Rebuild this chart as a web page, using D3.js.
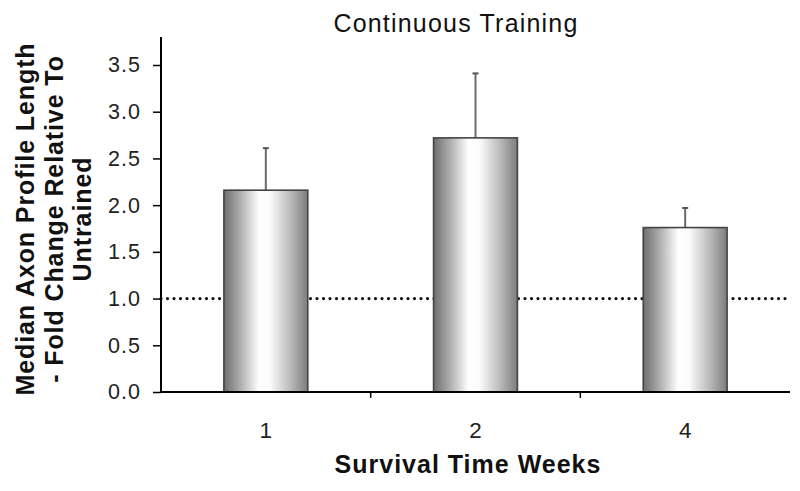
<!DOCTYPE html>
<html><head><meta charset="utf-8">
<script src="https://cdn.jsdelivr.net/npm/d3@7"></script>
<style>body{margin:0;background:#fff}svg{display:block}</style>
</head><body>
<svg id="c" width="800" height="491"></svg>
<script>
const categories = ["1", "2", "4"];
const values = [2.16, 2.72, 1.76];
const errors = [0.45, 0.69, 0.21];
const yTicks = [0, 0.5, 1.0, 1.5, 2.0, 2.5, 3.0, 3.5];
const refLine = 1.0;

const svg = d3.select("#c");
const m = {left: 161, right: 790, top: 37, bottom: 392};
const font = "Arial, 'Liberation Sans', sans-serif";

const x = d3.scaleBand().domain(categories).range([m.left, m.right]).paddingInner(0.6).paddingOuter(0.3);
const xOuter = d3.scaleBand().domain(categories).range([m.left, m.right]);
const y = d3.scaleLinear().domain([0, 3.5]).range([m.bottom, 65]);

const defs = svg.append("defs");
const g = defs.append("linearGradient").attr("id", "bg").attr("x1", "0").attr("x2", "1").attr("y1", "0").attr("y2", "0");
[[0, "#6e6e6e"], [0.18, "#a8a8a8"], [0.42, "#ffffff"], [0.55, "#fbfbfb"], [0.8, "#b8b8b8"], [1, "#7c7c7c"]]
  .forEach(([o, c]) => g.append("stop").attr("offset", o).attr("stop-color", c));

// reference dotted line
svg.append("line")
  .attr("x1", m.left).attr("x2", m.right)
  .attr("y1", y(refLine)).attr("y2", y(refLine))
  .attr("stroke", "#111").attr("stroke-width", 3.2)
  .attr("stroke-dasharray", "0 6.5").attr("stroke-linecap", "round");

// error bars
categories.forEach((c, i) => {
  const cx = x(c) + x.bandwidth() / 2;
  svg.append("line").attr("x1", cx).attr("x2", cx)
    .attr("y1", y(values[i])).attr("y2", y(values[i] + errors[i]))
    .attr("stroke", "#6a6a6a").attr("stroke-width", 2);
  svg.append("line").attr("x1", cx - 3).attr("x2", cx + 3)
    .attr("y1", y(values[i] + errors[i])).attr("y2", y(values[i] + errors[i]))
    .attr("stroke", "#555").attr("stroke-width", 2);
});

// bars
svg.selectAll("rect.bar").data(values).join("rect")
  .attr("class", "bar")
  .attr("x", (d, i) => x(categories[i]))
  .attr("width", x.bandwidth())
  .attr("y", d => y(d))
  .attr("height", d => y(0) - y(d))
  .attr("fill", "url(#bg)")
  .attr("stroke", "#444").attr("stroke-width", 1.6);

// y axis
const yAxis = d3.axisLeft(y).tickValues(yTicks).tickFormat(d3.format(".1f")).tickSize(8).tickSizeOuter(0);
const ya = svg.append("g").attr("transform", `translate(${m.left},0)`).call(yAxis);
ya.select(".domain").remove();
ya.selectAll(".tick line").attr("stroke", "#000").attr("stroke-width", 1.5);
ya.selectAll(".tick text").attr("font-family", font).attr("font-size", 21.5)
  .attr("letter-spacing", 1).attr("fill", "#222").attr("x", -20);
svg.append("line").attr("x1", m.left).attr("x2", m.left).attr("y1", m.top).attr("y2", m.bottom)
  .attr("stroke", "#000").attr("stroke-width", 2);

// x axis
svg.append("line").attr("x1", m.left).attr("x2", m.right).attr("y1", m.bottom).attr("y2", m.bottom)
  .attr("stroke", "#000").attr("stroke-width", 2);
categories.slice(1).forEach(c => {
  svg.append("line").attr("x1", xOuter(c)).attr("x2", xOuter(c)).attr("y1", m.bottom).attr("y2", m.bottom + 6)
    .attr("stroke", "#000").attr("stroke-width", 1.5);
});
svg.selectAll("text.xl").data(categories).join("text")
  .attr("class", "xl")
  .attr("x", d => x(d) + x.bandwidth() / 2)
  .attr("y", 438)
  .attr("text-anchor", "middle")
  .attr("font-family", font).attr("font-size", 22.5).attr("fill", "#222")
  .text(d => d);

// titles
svg.append("text").attr("x", 456).attr("y", 32).attr("text-anchor", "middle")
  .attr("font-family", font).attr("font-size", 25).attr("letter-spacing", 1.2).attr("fill", "#111").text("Continuous Training");
svg.append("text").attr("x", 468).attr("y", 473).attr("text-anchor", "middle")
  .attr("font-family", font).attr("font-size", 25).attr("letter-spacing", 1).attr("font-weight", "bold").attr("fill", "#111")
  .text("Survival Time Weeks");
const yl = svg.append("text").attr("transform", "translate(0,219) rotate(-90)")
  .attr("text-anchor", "middle").attr("font-family", font).attr("font-size", 25)
  .attr("letter-spacing", 0.9).attr("font-weight", "bold").attr("fill", "#111");
["Median Axon Profile Length", "- Fold Change Relative To", "Untrained"].forEach((t, i) => {
  yl.append("tspan").attr("x", 0).attr("y", 34 + i * 28.5).text(t);
});
</script>
</body></html>
